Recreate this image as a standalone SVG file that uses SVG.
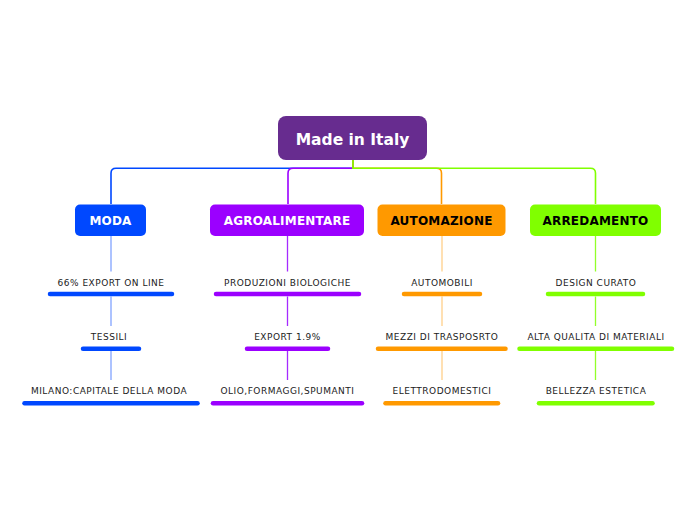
<svg xmlns="http://www.w3.org/2000/svg" width="696" height="520" viewBox="0 0 696 520">
<style>
.conn{fill:none;stroke-width:1.6}
.stem{fill:none;stroke-width:1.3}
.bar{stroke-width:4.5;stroke-linecap:round}
.lbl{font-family:"DejaVu Sans",Verdana,sans-serif;font-size:9px;letter-spacing:0.5px;fill:#222;text-anchor:middle}
.nt{font-family:"DejaVu Sans",Verdana,sans-serif;font-size:12px;font-weight:bold;letter-spacing:0.2px;text-anchor:middle}
</style>
<rect width="696" height="520" fill="#ffffff"/>
<g id="connectors">
  <path class="conn" stroke="#0048FF" d="M353,160 V168.3 H116 Q111,168.3 111,173.3 V204"/>
  <path class="conn" stroke="#9B00FF" d="M353,160 V168.3 H293 Q288,168.3 288,173.3 V204"/>
  <path class="conn" stroke="#FF9900" d="M353,160 V168.3 H436.5 Q441.5,168.3 441.5,173.3 V204"/>
  <path class="conn" stroke="#80FF00" d="M353,160 V168.3 H590.5 Q595.5,168.3 595.5,173.3 V204"/>
  <g stroke="#82A4FF" class="stem">
    <path d="M111,236 V271.5 M111,296.5 V326 M111,351 V380"/>
  </g>
  <g stroke="#A52BFF" class="stem">
    <path d="M287.5,236 V271.5 M287.5,296.5 V326 M287.5,351 V380"/>
  </g>
  <g stroke="#FFD08A" class="stem">
    <path d="M442,236 V271.5 M442,296.5 V326 M442,351 V380"/>
  </g>
  <g stroke="#92FF2A" class="stem">
    <path d="M595.5,236 V271.5 M595.5,296.5 V326 M595.5,351 V380"/>
  </g>
</g>
<g id="root">
  <rect x="278" y="116" width="149" height="44" rx="8" fill="#672C8F"/>
  <text x="352.5" y="145" font-family="DejaVu Sans,Verdana,sans-serif" font-size="15.5" font-weight="bold" fill="#ffffff" text-anchor="middle">Made in Italy</text>
</g>
<g id="moda">
  <rect x="75" y="204.5" width="71" height="31.5" rx="5" fill="#0048FF"/>
  <text class="nt" x="110.5" y="225" fill="#ffffff">MODA</text>
</g>
<g id="agro">
  <rect x="210" y="204.5" width="154" height="31.5" rx="5" fill="#9B00FF"/>
  <text class="nt" x="287" y="225" fill="#ffffff">AGROALIMENTARE</text>
</g>
<g id="auto">
  <rect x="377.5" y="204.5" width="128" height="31.5" rx="5" fill="#FF9900"/>
  <text class="nt" x="441.5" y="225" fill="#000000">AUTOMAZIONE</text>
</g>
<g id="arred">
  <rect x="530" y="204.5" width="131" height="31.5" rx="5" fill="#80FF00"/>
  <text class="nt" x="595.5" y="225" fill="#000000">ARREDAMENTO</text>
</g>
<g id="moda-1">
  <text class="lbl" x="111" y="285.5">66% EXPORT ON LINE</text>
  <line class="bar" stroke="#0048FF" x1="50" y1="294" x2="172" y2="294"/>
</g>
<g id="moda-2">
  <text class="lbl" x="109" y="340">TESSILI</text>
  <line class="bar" stroke="#0048FF" x1="83" y1="348.7" x2="139" y2="348.7"/>
</g>
<g id="moda-3">
  <text class="lbl" x="109" y="394">MILANO:CAPITALE DELLA MODA</text>
  <line class="bar" stroke="#0048FF" x1="24.5" y1="403.3" x2="197.5" y2="403.3"/>
</g>
<g id="agro-1">
  <text class="lbl" x="287.5" y="285.5">PRODUZIONI BIOLOGICHE</text>
  <line class="bar" stroke="#9B00FF" x1="216" y1="294" x2="359" y2="294"/>
</g>
<g id="agro-2">
  <text class="lbl" x="287.5" y="340">EXPORT 1.9%</text>
  <line class="bar" stroke="#9B00FF" x1="247" y1="348.7" x2="328" y2="348.7"/>
</g>
<g id="agro-3">
  <text class="lbl" x="287.5" y="394">OLIO,FORMAGGI,SPUMANTI</text>
  <line class="bar" stroke="#9B00FF" x1="213" y1="403.3" x2="362" y2="403.3"/>
</g>
<g id="auto-1">
  <text class="lbl" x="442" y="285.5">AUTOMOBILI</text>
  <line class="bar" stroke="#FF9900" x1="404" y1="294" x2="480" y2="294"/>
</g>
<g id="auto-2">
  <text class="lbl" x="442" y="340">MEZZI DI TRASPOSRTO</text>
  <line class="bar" stroke="#FF9900" x1="378" y1="348.7" x2="505.5" y2="348.7"/>
</g>
<g id="auto-3">
  <text class="lbl" x="442" y="394">ELETTRODOMESTICI</text>
  <line class="bar" stroke="#FF9900" x1="385.5" y1="403.3" x2="498" y2="403.3"/>
</g>
<g id="arred-1">
  <text class="lbl" x="596" y="285.5">DESIGN CURATO</text>
  <line class="bar" stroke="#80FF00" x1="548" y1="294" x2="643" y2="294"/>
</g>
<g id="arred-2">
  <text class="lbl" x="596" y="340">ALTA QUALITA DI MATERIALI</text>
  <line class="bar" stroke="#80FF00" x1="519.5" y1="348.7" x2="672" y2="348.7"/>
</g>
<g id="arred-3">
  <text class="lbl" x="596" y="394">BELLEZZA ESTETICA</text>
  <line class="bar" stroke="#80FF00" x1="539" y1="403.3" x2="652.5" y2="403.3"/>
</g>
</svg>
